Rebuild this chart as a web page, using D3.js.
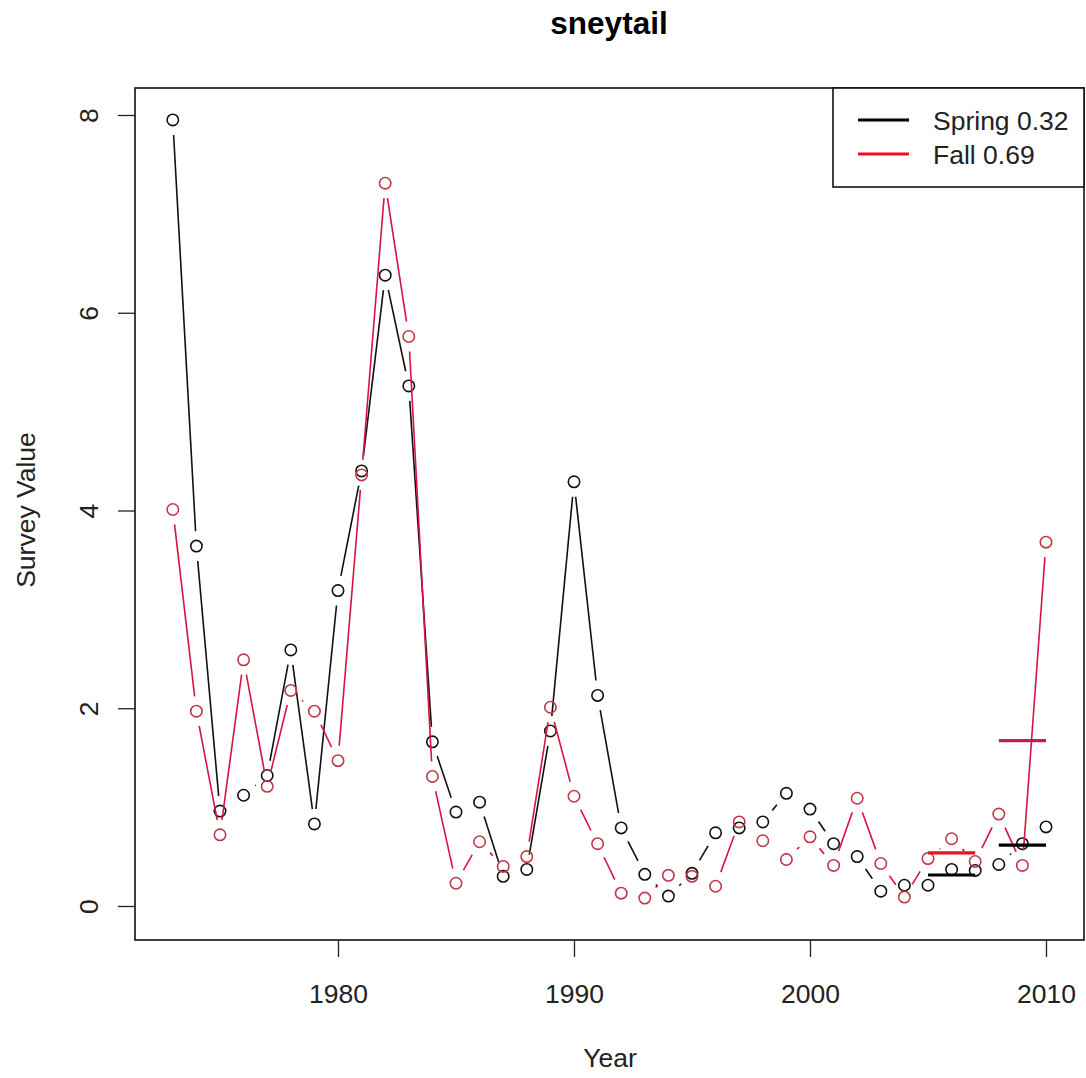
<!DOCTYPE html>
<html>
<head>
<meta charset="utf-8">
<script src="https://cdn.jsdelivr.net/npm/d3@7"></script>
<style>
  html, body { margin: 0; padding: 0; background: #fff; }
  svg { display: block; font-family: "Liberation Sans", Arial, sans-serif; }
</style>
</head>
<body>
<svg id="chart" width="1086" height="1078"></svg>
<script>
// Survey index by year, spring and fall surveys
const years = [1973,1974,1975,1976,1977,1978,1979,1980,1981,1982,1983,1984,1985,1986,1987,1988,1989,1990,1991,1992,1993,1994,1995,1996,1997,1998,1999,2000,2001,2002,2003,2004,2005,2006,2007,2008,2009,2010];
const springValues = [7.95,3.64,0.96,1.12,1.32,2.59,0.83,3.19,4.40,6.38,5.26,1.66,0.95,1.05,0.30,0.37,1.77,4.29,2.13,0.79,0.32,0.10,0.33,0.74,0.79,0.85,1.14,0.98,0.63,0.50,0.15,0.21,0.21,0.37,0.36,0.42,0.63,0.80];
const fallValues   = [4.01,1.97,0.72,2.49,1.21,2.18,1.97,1.47,4.36,7.31,5.76,1.31,0.23,0.65,0.40,0.50,2.01,1.11,0.63,0.13,0.08,0.31,0.30,0.20,0.85,0.66,0.47,0.70,0.41,1.09,0.43,0.09,0.48,0.68,0.45,0.93,0.41,3.68];

// Three-year averaging windows
const windows = [[2005, 2007], [2008, 2010]];

const xTicks = [1980, 1990, 2000, 2010];
const yTicks = [0, 2, 4, 6, 8];
const legendLabels = ["Spring 0.32", "Fall 0.69"];
const titleText = "sneytail";
const xTitle = "Year";
const yTitle = "Survey Value";

const svg = d3.select("#chart");
const box = { left: 135, right: 1084, top: 88, bottom: 940 };

const x = d3.scaleLinear().domain([1980, 2010]).range([338, 1046]);
const y = d3.scaleLinear().domain([0, 8]).range([906, 115]);

const RED_LINE = "#d81440";
const RED_PT = "#c03848";

// Title
svg.append("text")
  .attr("x", 609).attr("y", 34)
  .attr("text-anchor", "middle")
  .attr("font-size", 31.5).attr("font-weight", "bold")
  .attr("fill", "#000")
  .text(titleText);

// Plot frame
svg.append("rect")
  .attr("x", box.left).attr("y", box.top)
  .attr("width", box.right - box.left).attr("height", box.bottom - box.top)
  .attr("fill", "none").attr("stroke", "#111").attr("stroke-width", 1.6);

// X axis
const xAxis = d3.axisBottom(x).tickValues(xTicks).tickFormat(d3.format("d")).tickSize(17).tickPadding(27);
const gx = svg.append("g").attr("transform", `translate(0,${box.bottom})`).call(xAxis);
gx.select(".domain").remove();
gx.selectAll(".tick line").attr("stroke", "#222").attr("stroke-width", 1.3);
gx.selectAll(".tick text").attr("font-size", 26.5).attr("fill", "#222")
  .attr("font-family", "Liberation Sans, Arial, sans-serif");

// Y axis with labels parallel to the axis
const yAxis = d3.axisLeft(y).tickValues(yTicks).tickFormat(d3.format("d")).tickSize(17).tickPadding(0);
const gy = svg.append("g").attr("transform", `translate(${box.left},0)`).call(yAxis);
gy.select(".domain").remove();
gy.selectAll(".tick line").attr("stroke", "#222").attr("stroke-width", 1.3);
gy.selectAll(".tick text")
  .attr("font-size", 26.5).attr("fill", "#222")
  .attr("font-family", "Liberation Sans, Arial, sans-serif")
  .attr("x", null).attr("dy", null)
  .attr("text-anchor", "middle")
  .attr("transform", "translate(-28,0) rotate(-90) translate(0,-9)");

// Axis titles
svg.append("text")
  .attr("x", 610).attr("y", 1067)
  .attr("text-anchor", "middle").attr("font-size", 26.5).attr("fill", "#222")
  .text(xTitle);
svg.append("text")
  .attr("transform", "translate(35,510) rotate(-90)")
  .attr("text-anchor", "middle").attr("font-size", 26.5).attr("fill", "#222")
  .text(yTitle);

// Lines broken around each point, as in a "both" style plot
const GAP = 15;
function drawSeries(values, lineColor, pointColor) {
  const pts = years.map((yr, i) => [x(yr), y(values[i])]);
  const segs = [];
  for (let i = 0; i < pts.length - 1; i++) {
    const [x0, y0] = pts[i], [x1, y1] = pts[i + 1];
    const dx = x1 - x0, dy = y1 - y0, d = Math.hypot(dx, dy);
    if (d > 2 * GAP) {
      const ux = dx / d, uy = dy / d;
      segs.push([x0 + ux * GAP, y0 + uy * GAP, x1 - ux * GAP, y1 - uy * GAP]);
    }
  }
  const g = svg.append("g");
  g.selectAll("line").data(segs).join("line")
    .attr("x1", d => d[0]).attr("y1", d => d[1])
    .attr("x2", d => d[2]).attr("y2", d => d[3])
    .attr("stroke", lineColor).attr("stroke-width", 1.6);
  g.selectAll("circle").data(pts).join("circle")
    .attr("cx", d => d[0]).attr("cy", d => d[1]).attr("r", 5.7)
    .attr("fill", "none").attr("stroke", pointColor).attr("stroke-width", 1.6);
}
drawSeries(springValues, "#111", "#111");
drawSeries(fallValues, RED_LINE, RED_PT);

// Window averages
function windowMean(values, w) {
  return d3.mean(years.map((yr, i) => (yr >= w[0] && yr <= w[1]) ? values[i] : null).filter(v => v !== null));
}
const avgData = [];
windows.forEach((w, wi) => {
  avgData.push({ w, v: windowMean(springValues, w), color: "#000" });
  avgData.push({ w, v: windowMean(fallValues, w), color: wi === 0 ? "#f0101c" : "#c41e4e" });
});
svg.append("g").selectAll("line").data(avgData).join("line")
  .attr("x1", d => x(d.w[0])).attr("x2", d => x(d.w[1]))
  .attr("y1", d => y(d.v)).attr("y2", d => y(d.v))
  .attr("stroke", d => d.color).attr("stroke-width", 3.2);

// Legend
const legend = svg.append("g");
legend.append("rect")
  .attr("x", 833).attr("y", box.top)
  .attr("width", box.right - 833).attr("height", 99)
  .attr("fill", "#fff").attr("stroke", "#111").attr("stroke-width", 1.6);
const legendColors = ["#000", "#f0101c"];
legendLabels.forEach((lab, i) => {
  const ly = 120 + i * 34;
  legend.append("line")
    .attr("x1", 858).attr("x2", 909).attr("y1", ly).attr("y2", ly)
    .attr("stroke", legendColors[i]).attr("stroke-width", 3.2);
  legend.append("text")
    .attr("x", 933).attr("y", ly + 10)
    .attr("font-size", 26.5).attr("fill", "#222")
    .text(lab);
});
</script>
</body>
</html>
